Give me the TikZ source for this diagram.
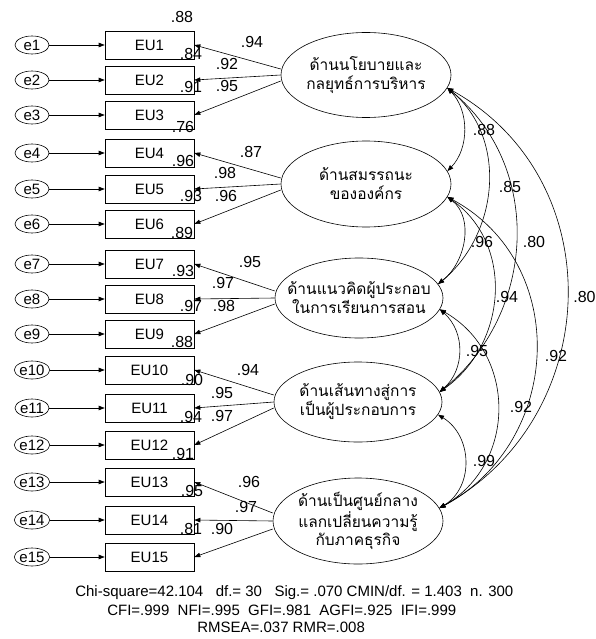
\documentclass[tikz,border=0pt]{standalone}
\usepackage{fontspec}
\setmainfont{Liberation Sans}
\newfontfamily\thaifont[Script=Thai]{Loma}
\usetikzlibrary{shapes.geometric,arrows.meta,calc}

\begin{document}
\begin{tikzpicture}[x=1pt,y=-1pt,
  line width=0.6pt,
  >={Triangle[length=6pt,width=4.5pt]},
  errnode/.style={ellipse,draw,minimum width=34pt,minimum height=18pt,inner sep=0pt,
    font=\fontsize{15}{15}\selectfont},
  obs/.style={rectangle,draw,minimum width=89pt,minimum height=28pt,inner sep=0pt,
    font=\fontsize{15}{15}\selectfont},
  lat/.style={ellipse,draw,minimum width=170pt,minimum height=85pt,inner sep=0pt},
  lattext/.style={inner sep=0pt,align=center,font=\thaifont\fontsize{15.5}{19}\selectfont},
  num/.style={inner sep=0pt,font=\fontsize{16}{16}\selectfont},
  fit/.style={inner sep=0pt,anchor=west,font=\fontsize{15}{15}\selectfont},
]
\useasboundingbox (0,0) rectangle (596,639);

% indicators with their error terms
\foreach \i/\y in {1/45,2/80,3/115,4/153,5/189,6/224,7/264,8/299,9/334,
                   10/370,11/408,12/445,13/482,14/520,15/557}{
  \node[errnode] (e\i) at (32,\y) {e\i};
  \node[obs] (EU\i) at (149.5,\y) {EU\i};
  \draw[->] (e\i) -- (EU\i);
}

% latent factors
\node[lat] (F1) at (366,75) {};
\node[lat,minimum height=86pt] (F2) at (366,184) {};
\node[lat,minimum width=168pt,minimum height=80pt] (F3) at (359,298) {};
\node[lat,minimum width=168pt,minimum height=80pt] (F4) at (358,402) {};
\node[lat,minimum height=86pt] (F5) at (358,521) {};
\node[lattext] (t1) at (F1) {ด้านนโยบายและ\\กลยุทธ์การบริหาร};
\node[lattext] (t2) at (F2) {ด้านสมรรถนะ\\ขององค์กร};
\node[lattext] (t3) at (F3) {ด้านแนวคิดผู้ประกอบ\\ในการเรียนการสอน};
\node[lattext] (t4) at (F4) {ด้านเส้นทางสู่การ\\เป็นผู้ประกอบการ};
\node[lattext,font=\thaifont\fontsize{15.5}{18}\selectfont] (t5) at (F5) {ด้านเป็นศูนย์กลาง\\แลกเปลี่ยนความรู้\\กับภาคธุรกิจ};

% factor loadings
\draw[->] ($(F1.west)+(0,-6)$) -- (EU1.east);
\draw[->] (F1.west) -- (EU2.east);
\draw[->] ($(F1.west)+(0,6)$) -- (EU3.east);
\draw[->] ($(F2.west)+(0,-6)$) -- (EU4.east);
\draw[->] (F2.west) -- (EU5.east);
\draw[->] ($(F2.west)+(0,6)$) -- (EU6.east);
\draw[->] ($(F3.west)+(0,-7)$) -- (EU7.east);
\draw[->] (F3.west) -- (EU8.east);
\draw[->] ($(F3.west)+(0,6)$) -- (EU9.east);
\draw[->] ($(F4.west)+(0,-7)$) -- (EU10.east);
\draw[->] (F4.west) -- (EU11.east);
\draw[->] ($(F4.west)+(0,6)$) -- (EU12.east);
\draw[->] ($(F5.west)+(0,-8)$) -- (EU13.east);
\draw[->] (F5.west) -- (EU14.east);
\draw[->] ($(F5.west)+(0,8)$) -- (EU15.east);

% loading values
\node[num] (l1)  at (252,42)  {.94};
\node[num] (l2)  at (227,64)  {.92};
\node[num] (l3)  at (227,86)  {.95};
\node[num] (l4)  at (251,152) {.87};
\node[num] (l5)  at (225,173) {.98};
\node[num] (l6)  at (226,196) {.96};
\node[num] (l7)  at (250,262) {.95};
\node[num] (l8)  at (223,283) {.97};
\node[num] (l9)  at (224,306) {.98};
\node[num] (l10) at (248,370) {.94};
\node[num] (l11) at (222,393) {.95};
\node[num] (l12) at (222,416) {.97};
\node[num] (l13) at (249,482) {.96};
\node[num] (l14) at (246,507) {.97};
\node[num] (l15) at (222,529) {.90};

% squared multiple correlations
\node[num] (r1)  at (182,17)  {.88};
\node[num] (r2)  at (191,54)  {.84};
\node[num] (r3)  at (191,87)  {.91};
\node[num] (r4)  at (183,127) {.76};
\node[num] (r5)  at (183,161) {.96};
\node[num] (r6)  at (191,196) {.93};
\node[num] (r7)  at (182,233) {.89};
\node[num] (r8)  at (183,271) {.93};
\node[num] (r9)  at (191,306) {.97};
\node[num] (r10) at (182,342) {.88};
\node[num] (r11) at (192,380) {.90};
\node[num] (r12) at (191,417) {.94};
\node[num] (r13) at (183,454) {.91};
\node[num] (r14) at (192,491) {.95};
\node[num] (r15) at (191,529) {.81};

% factor correlations
\draw[<->] (F1.-9) .. controls +(21.9,22.9) and +(21.9,-22.9) .. (F2.9);
\draw[<->] (F1.-9) .. controls +(60.7,50.4) and +(60.7,-50.4) .. (F3.10);
\draw[<->] (F1.-9) .. controls +(96.6,78.7) and +(96.6,-78.7) .. (F4.7);
\draw[<->] (F1.-9) .. controls +(164.7,91.6) and +(164.7,-91.6) .. (F5.9);
\draw[<->] (F2.-9) .. controls +(27.3,21.4) and +(27.3,-21.4) .. (F3.10);
\draw[<->] (F2.-9) .. controls +(67.3,47.5) and +(67.3,-47.5) .. (F4.7);
\draw[<->] (F2.-9) .. controls +(123.3,66.8) and +(123.3,-66.8) .. (F5.9);
\draw[<->] (F3.-8) .. controls +(25.4,22.7) and +(25.4,-22.7) .. (F4.7);
\draw[<->] (F3.-8) .. controls +(77.3,44.3) and +(77.3,-44.3) .. (F5.9);
\draw[<->] (F4.-9) .. controls +(34.7,21.3) and +(34.7,-21.3) .. (F5.9);

% correlation values
\node[num] (c12) at (484,130) {.88};
\node[num] (c13) at (510,187) {.85};
\node[num] (c23) at (482,242) {.96};
\node[num] (c14) at (534,242) {.80};
\node[num] (c24) at (507,297) {.94};
\node[num] (c15) at (584.5,297) {.80};
\node[num] (c34) at (477,351) {.95};
\node[num] (c25) at (556,356) {.92};
\node[num] (c35) at (521,407) {.92};
\node[num] (c45) at (484,461) {.99};

% model fit
\node[fit] (fit1) at (75,593) {Chi-square=42.104\ \ \ df.= 30\ \ \ Sig.= .070 CMIN/df. = 1.403\ \ n. 300};
\node[fit] (fit2) at (107,610) {CFI=.999\ \ NFI=.995\ \ GFI=.981\ \ AGFI=.925\ \ IFI=.999};
\node[fit] (fit3) at (197,627) {RMSEA=.037 RMR=.008};
\end{tikzpicture}
\end{document}
